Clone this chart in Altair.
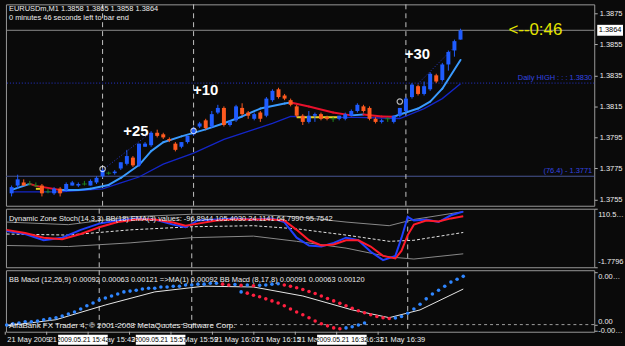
import altair as alt
import pandas as pd

# ---------------- data: EURUSDm M1 candles ----------------
opens = [1.3759, 1.3764, 1.3766, 1.3765, 1.3764, 1.3764, 1.3760, 1.3759, 1.3762, 1.3761,
         1.3764, 1.3764, 1.3765, 1.3764, 1.3766, 1.3770, 1.3772, 1.3772, 1.3775, 1.3778,
         1.3782, 1.3777, 1.3789, 1.3790, 1.3798, 1.3797, 1.3794, 1.3791, 1.3789, 1.3792,
         1.3797, 1.3802, 1.3806, 1.3802, 1.3811, 1.3814, 1.3803, 1.3806, 1.3814, 1.3811,
         1.3807, 1.3811, 1.3809, 1.3819, 1.3826, 1.3822, 1.3819, 1.3815, 1.3809, 1.3805,
         1.3809, 1.3810, 1.3808, 1.3807, 1.3807, 1.3807, 1.3809, 1.3812, 1.3815, 1.3814,
         1.3807, 1.3805, 1.3807, 1.3805, 1.3809, 1.3812, 1.3821, 1.3828, 1.3823, 1.3826,
         1.3835, 1.3832, 1.3842, 1.3851, 1.3858]
highs = [1.3764, 1.3771, 1.3768, 1.3767, 1.3766, 1.3765, 1.3762, 1.3763, 1.3763, 1.3766,
         1.3767, 1.3766, 1.3767, 1.3768, 1.3770, 1.3775, 1.3773, 1.3774, 1.3779, 1.3787,
         1.3783, 1.3791, 1.3792, 1.3799, 1.3800, 1.3798, 1.3795, 1.3792, 1.3792, 1.3796,
         1.3802, 1.3805, 1.3807, 1.3812, 1.3816, 1.3815, 1.3806, 1.3816, 1.3817, 1.3812,
         1.3811, 1.3812, 1.3821, 1.3826, 1.3827, 1.3823, 1.3820, 1.3816, 1.3810, 1.3812,
         1.3811, 1.3811, 1.3809, 1.3808, 1.3809, 1.3811, 1.3813, 1.3817, 1.3816, 1.3815,
         1.3808, 1.3807, 1.3808, 1.3809, 1.3814, 1.3821, 1.3830, 1.3829, 1.3831, 1.3837,
         1.3836, 1.3843, 1.3851, 1.3858, 1.3865]
lows = [1.3757, 1.3762, 1.3764, 1.3764, 1.3763, 1.3757, 1.3759, 1.3758, 1.3757, 1.3760,
        1.3764, 1.3763, 1.3764, 1.3764, 1.3765, 1.3769, 1.3771, 1.3771, 1.3774, 1.3777,
        1.3776, 1.3776, 1.3789, 1.3789, 1.3795, 1.3794, 1.3792, 1.3786, 1.3788, 1.3791,
        1.3796, 1.3801, 1.3800, 1.3801, 1.3810, 1.3802, 1.3802, 1.3805, 1.3809, 1.3807,
        1.3806, 1.3805, 1.3808, 1.3818, 1.3820, 1.3819, 1.3815, 1.3808, 1.3803, 1.3804,
        1.3805, 1.3806, 1.3806, 1.3805, 1.3806, 1.3806, 1.3809, 1.3811, 1.3811, 1.3806,
        1.3804, 1.3804, 1.3805, 1.3804, 1.3808, 1.3811, 1.3820, 1.3822, 1.3822, 1.3825,
        1.3830, 1.3831, 1.3838, 1.3847, 1.3858]
closes = [1.3763, 1.3768, 1.3764, 1.3765, 1.3764, 1.3759, 1.3760, 1.3762, 1.3759, 1.3765,
          1.3766, 1.3765, 1.3765, 1.3767, 1.3769, 1.3774, 1.3772, 1.3773, 1.3779, 1.3783,
          1.3777, 1.3791, 1.3791, 1.3798, 1.3796, 1.3795, 1.3793, 1.3787, 1.3792, 1.3796,
          1.3801, 1.3804, 1.3801, 1.3810, 1.3814, 1.3803, 1.3805, 1.3815, 1.3810, 1.3809,
          1.3810, 1.3807, 1.3820, 1.3825, 1.3821, 1.3820, 1.3816, 1.3809, 1.3805, 1.3809,
          1.3810, 1.3807, 1.3807, 1.3807, 1.3809, 1.3810, 1.3812, 1.3816, 1.3812, 1.3807,
          1.3805, 1.3806, 1.3807, 1.3809, 1.3814, 1.3820, 1.3829, 1.3823, 1.3828, 1.3836,
          1.3831, 1.3842, 1.3850, 1.3857, 1.3864]

# fast MA (coloured by slope), slow MA, channel lines
ma_fast_idx = [0, 3, 4, 8, 11, 13, 16, 18, 21, 23, 25, 28, 32, 35, 38, 41, 45, 46, 49, 53,
               56, 58, 61, 63, 64, 67, 69, 71, 74]
ma_fast_val = [1.37612, 1.37651, 1.37638, 1.37612, 1.37612, 1.37619, 1.37644, 1.37689, 1.37772,
               1.37862, 1.37919, 1.37957, 1.38002, 1.38041, 1.38085, 1.38136, 1.38168, 1.38175,
               1.38149, 1.38111, 1.38092, 1.38098, 1.38085, 1.38083, 1.38098, 1.38136, 1.38181,
               1.38264, 1.38449]
ma_slow_idx = [0, 8, 15, 18, 21, 25, 30, 35, 40, 43, 46, 51, 57, 64, 68, 71, 74]
ma_slow_val = [1.37600, 1.37600, 1.37619, 1.37657, 1.37695, 1.37778, 1.37849, 1.37938, 1.38002,
               1.38041, 1.38085, 1.38079, 1.38079, 1.38072, 1.38136, 1.38200, 1.38296]
chan_i1 = [15, 67]
chan_i2 = [23, 73]
chan_p1 = [1.37740, 1.38296]
chan_p2 = [1.37983, 1.38532]
yel_i1 = [4, 47]
yel_i2 = [5, 54]
yel_p = [1.37619, 1.38080]

bid_price = 1.3864
daily_high = 1.3830
fib_level = 1.3770
price_ticks = [1.3755, 1.3775, 1.3795, 1.3815, 1.3835, 1.3855, 1.3875]
vline_idx = [15, 30, 65]
circle_idx = [15, 30, 64]
circle_p = [1.37747, 1.37992, 1.38181]
ann_idx = [20.5, 32.0, 66.9]
ann_p = [1.37989, 1.38258, 1.38488]
ann_txt = ["+25", "+10", "+30"]

# Dynamic Zone Stoch panel
stoch_idx = [0, 3, 6, 9, 12, 15, 18, 21, 24, 27, 29, 31, 34, 37, 40, 43, 45, 47, 49, 51,
             53, 55, 57, 59, 61, 63, 64, 65, 66, 68, 70, 72, 74]
stoch_main = [68, 62, 50, 55, 70, 82, 88, 92, 90, 80, 75, 88, 90, 92, 90, 92, 85, 55, 40, 38,
              45, 55, 50, 28, 12, 20, 55, 95, 88, 90, 85, 98, 105]
stoch_signal = [70, 64, 55, 52, 62, 75, 85, 90, 90, 84, 78, 82, 88, 90, 90, 90, 88, 70, 50, 40,
                42, 50, 50, 38, 20, 15, 30, 60, 80, 88, 86, 92, 96]
zone_idx = [0, 10, 20, 30, 40, 47, 55, 62, 66, 74]
zone_mid = [62, 60, 70, 76, 78, 72, 60, 48, 50, 65]
zone_up = [85, 80, 95, 100, 100, 95, 85, 78, 90, 105]
zone_lo = [40, 38, 45, 55, 58, 48, 35, 18, 14, 24]

# BB MACD panel
macd = [-0.00001, 0.00002, 0.00004, 0.00007, 0.00007, 0.00009,
        0.00012, 0.00014, 0.00017, 0.00021, 0.00026,
        0.00031, 0.00038, 0.00046, 0.00053, 0.00060,
        0.00065, 0.00070, 0.00075, 0.00080, 0.00082,
        0.00084, 0.00087, 0.00089, 0.00089, 0.00092,
        0.00092, 0.00094, 0.00094, 0.00097, 0.00097,
        0.00099, 0.00099, 0.00101, 0.00101, 0.00099,
        0.00097, 0.00098, 0.00096, 0.00097, 0.00095,
        0.00096, 0.00097, 0.00099, 0.00100, 0.00097,
        0.00094, 0.00090, 0.00086, 0.00081, 0.00076,
        0.00070, 0.00064, 0.00058, 0.00052, 0.00046,
        0.00040, 0.00034, 0.00029, 0.00024, 0.00020,
        0.00017, 0.00015, 0.00016, 0.00020, 0.00028,
        0.00038, 0.00050, 0.00063, 0.00075, 0.00084,
        0.00094, 0.00104, 0.00111, 0.00118]
macd2_start = 38
macd2 = [0.00080, 0.00077, 0.00072, 0.00068, 0.00063, 0.00058, 0.00053, 0.00046, 0.00038,
         0.00031, 0.00024, 0.00017, 0.00009, 0.00002, -0.00003, -0.00008, -0.00010, -0.00008,
         -0.00005, -0.00001, 0.00004]
sig_idx = [0, 8, 16, 24, 32, 40, 48, 56, 62, 67, 74]
sig_val = [-0.00003, 0.00012, 0.00048, 0.00080, 0.00094, 0.00092, 0.00070, 0.00036, 0.00017,
           0.00036, 0.00087]

# time axis
tick_times = ["15:27", "15:35", "15:43", "15:51", "15:59", "16:07", "16:15", "16:23", "16:31", "16:39"]
tick_labels = ["21 May 2009", "21 May 15:35", "21 May 15:43", "21 May 15:51", "21 May 15:59",
               "21 May 16:07", "21 May 16:15", "21 May 16:23", "21 May 16:31", "21 May 16:39"]
box_times = ["15:42", "15:57", "16:32"]
box_labels = ["2009.05.21 15:42", "2009.05.21 15:57", "2009.05.21 16:32"]

# ---------------- styling ----------------
FONT = "Liberation Sans"
BG = "#0a0a0a"
W = 593
H1, H2, H3, H4 = 203, 59, 62, 11
UP, DOWN, DOJI = "#1f5cff", "#ff5a1f", "#1e8a1e"
TXT = "#ececec"

XS = alt.Scale(domain=[-0.113, 95.23], nice=False, zero=False)


def X(f):
    return alt.X(f, type="quantitative", scale=XS, axis=None)


def make_y(scale, axis):
    def Y(f):
        return alt.Y(f, type="quantitative", scale=scale, axis=axis)
    return Y


AXBASE = dict(orient="right", domain=False, grid=False, title=None, tickColor="#b0b0b0",
              tickSize=3, labelPadding=2)
Y1 = make_y(alt.Scale(domain=[1.37510, 1.38807], nice=False, zero=False),
            alt.Axis(values=price_ticks, format=".4f", labelColor=TXT, labelFont=FONT,
                     labelFontSize=7.5, **AXBASE))
Y2 = make_y(alt.Scale(domain=[-1.7796, 110.591], nice=False, zero=False),
            alt.Axis(values=[-1.7796, 110.591], labels=False, **AXBASE))
Y3 = make_y(alt.Scale(domain=[-0.000174, 0.00133], nice=False, zero=False),
            alt.Axis(values=[0.00128, 0.0, -0.00015], labels=False, **AXBASE))


def txt(s, x, y, size=7.5, color=TXT, align="left", **kw):
    return alt.Chart(pd.DataFrame({"t": [s]})).mark_text(
        align=align, baseline="middle", font=FONT, fontSize=size, color=color, **kw
    ).encode(x=alt.value(x), y=alt.value(y), text="t:N")


def vlines():
    return alt.Chart(pd.DataFrame({"i": vline_idx})).mark_rule(
        color="#c4c4c4", strokeDash=[5, 4], strokeWidth=1).encode(x=X("i"))


def right_label(Y, v, s, baseline, dy=0):
    return alt.Chart(pd.DataFrame({"v": [v], "t": [s]})).mark_text(
        align="left", baseline=baseline, dy=dy, font=FONT, fontSize=7.5, color=TXT, limit=26
    ).encode(x=alt.value(W + 4), y=Y("v"), text="t:N")


# ---------------- panel 1: price ----------------
n = len(closes)
dirs = ["up" if c > o else ("down" if c < o else "doji") for o, c in zip(opens, closes)]
cdf = pd.DataFrame({"i": list(range(n)), "o": opens, "h": highs, "l": lows, "c": closes,
                    "col": [{"up": UP, "down": DOWN, "doji": DOJI}[d] for d in dirs],
                    "dir": dirs})

segs = []
for k in range(len(ma_fast_idx) - 1):
    a, b = ma_fast_val[k], ma_fast_val[k + 1]
    segs.append({"x1": ma_fast_idx[k], "x2": ma_fast_idx[k + 1], "p1": a, "p2": b,
                 "col": "#e8102c" if b < a else "#3a9bff"})
fdf = pd.DataFrame(segs)


def hl(p, **kw):
    return alt.Chart(pd.DataFrame({"p": [p]})).mark_rule(**kw).encode(y=Y1("p"))


p1_layers = [
    hl(fib_level, color="#4a5796", strokeWidth=1),
    hl(daily_high, color="#2636d6", strokeWidth=1, strokeDash=[1, 2]),
    hl(bid_price, color="#8c8c8c", strokeWidth=1),
    vlines(),
    alt.Chart(pd.DataFrame({"i": ma_slow_idx, "p": ma_slow_val})).mark_line(
        color="#1426c8", strokeWidth=1.3).encode(x=X("i"), y=Y1("p")),
    alt.Chart(pd.DataFrame({"x1": chan_i1, "x2": chan_i2, "p1": chan_p1, "p2": chan_p2})).mark_rule(
        color="#2a3ad0", strokeDash=[1, 2], strokeWidth=1).encode(
        x=X("x1"), x2="x2", y=Y1("p1"), y2="p2"),
    alt.Chart(pd.DataFrame({"x1": yel_i1, "x2": yel_i2, "p": yel_p})).mark_rule(
        color="#e6d21e", strokeWidth=2).encode(x=X("x1"), x2="x2", y=Y1("p")),
    alt.Chart(fdf).mark_rule(strokeWidth=2, strokeCap="round").encode(
        x=X("x1"), x2="x2", y=Y1("p1"), y2="p2", color=alt.Color("col:N", scale=None)),
    alt.Chart(cdf).mark_rule(strokeWidth=1).encode(
        x=X("i"), y=Y1("l"), y2="h", color=alt.Color("col:N", scale=None)),
    alt.Chart(cdf).transform_filter("datum.dir != 'doji'").mark_bar(size=4).encode(
        x=X("i"), y=Y1("o"), y2="c", color=alt.Color("col:N", scale=None)),
    alt.Chart(cdf).transform_filter("datum.dir == 'doji'").mark_tick(
        orient="horizontal", size=5, thickness=1.2).encode(
        x=X("i"), y=Y1("c"), color=alt.Color("col:N", scale=None)),
    alt.Chart(pd.DataFrame({"i": circle_idx, "p": circle_p})).mark_point(
        shape="circle", size=30, filled=False, color="white", strokeWidth=1.2).encode(
        x=X("i"), y=Y1("p")),
    alt.Chart(pd.DataFrame({"i": ann_idx, "p": ann_p, "t": ann_txt})).mark_text(
        font=FONT, fontSize=15, fontWeight="bold", color="white").encode(
        x=X("i"), y=Y1("p"), text="t:N"),
    alt.Chart(pd.DataFrame({"i": [81.9], "p": [bid_price], "t": ["<--0:46"]})).mark_text(
        align="left", baseline="middle", font=FONT, fontSize=17, color="#e4e400").encode(
        x=X("i"), y=Y1("p"), text="t:N"),
    alt.Chart(pd.DataFrame({"p": [daily_high], "t": ["Daily HIGH  : : :  1.3830"]})).mark_text(
        align="right", baseline="bottom", dy=-1, font=FONT, fontSize=7.5, color="#3446e0").encode(
        x=alt.value(W - 2), y=Y1("p"), text="t:N"),
    alt.Chart(pd.DataFrame({"p": [fib_level], "t": ["(76.4) - 1.3771"]})).mark_text(
        align="right", baseline="bottom", dy=-1, font=FONT, fontSize=7.5, color="#3446e0").encode(
        x=alt.value(W - 2), y=Y1("p"), text="t:N"),
    alt.Chart(pd.DataFrame({"p": [bid_price]})).mark_rect(width=26, height=11, color="white").encode(
        x=alt.value(W + 16), y=Y1("p")),
    alt.Chart(pd.DataFrame({"p": [bid_price], "t": ["1.3864"]})).mark_text(
        font=FONT, fontSize=7.5, color="black").encode(x=alt.value(W + 16), y=Y1("p"), text="t:N"),
    txt("EURUSDm,M1  1.3858 1.3865 1.3858 1.3864", 3, 5),
    txt("0 minutes 46 seconds left to bar end", 3, 14),
]
p1 = alt.layer(*p1_layers).properties(width=W, height=H1)

# ---------------- panel 2: Dynamic Zone Stoch ----------------
sdf = pd.DataFrame({"i": stoch_idx, "blue": stoch_main, "red": stoch_signal})
zdf = pd.DataFrame({"i": zone_idx, "mid": zone_mid, "up": zone_up, "lo": zone_lo})
p2_layers = [
    vlines(),
    alt.Chart(zdf).mark_line(color="#8a8a8a", strokeWidth=1).encode(x=X("i"), y=Y2("up")),
    alt.Chart(zdf).mark_line(color="#8a8a8a", strokeWidth=1).encode(x=X("i"), y=Y2("lo")),
    alt.Chart(zdf).mark_line(color="#e6e6e6", strokeWidth=1, strokeDash=[3, 2]).encode(
        x=X("i"), y=Y2("mid")),
    alt.Chart(sdf).mark_line(color="#2040ff", strokeWidth=2).encode(x=X("i"), y=Y2("blue")),
    alt.Chart(sdf).mark_line(color="#ff1a2a", strokeWidth=2).encode(x=X("i"), y=Y2("red")),
    txt("Dynamic Zone Stoch(14,3,3) BB(18) EMA(3) values: -96.8944 105.4030 24.1141 64.7990 95.7542",
        3, 10),
    right_label(Y2, 110.591, "110.5910", "top", 2),
    right_label(Y2, -1.7796, "-1.7796", "bottom", -1),
]
p2 = alt.layer(*p2_layers).properties(width=W, height=H2)

# ---------------- panel 3: BB MACD ----------------
mcol = []
for k, v in enumerate(macd):
    mcol.append("#ff2040" if k > 0 and v < macd[k - 1] else "#2f86ff")
mdf = pd.DataFrame({"i": list(range(len(macd))), "v": macd, "col": mcol})
m2col = []
for k, v in enumerate(macd2):
    m2col.append("#ff2040" if k > 0 and v < macd2[k - 1] else "#2f86ff")
m2df = pd.DataFrame({"i": [macd2_start + k for k in range(len(macd2))], "v": macd2, "col": m2col})

p3_layers = [
    alt.Chart(pd.DataFrame({"v": [0.0]})).mark_rule(color="#a0a0a0", strokeDash=[3, 3]).encode(
        y=Y3("v")),
    vlines(),
    alt.Chart(pd.DataFrame({"i": sig_idx, "v": sig_val})).mark_line(
        color="#e8e8e8", strokeWidth=1).encode(x=X("i"), y=Y3("v")),
    alt.Chart(m2df).mark_circle(size=13, opacity=1).encode(
        x=X("i"), y=Y3("v"), color=alt.Color("col:N", scale=None)),
    alt.Chart(mdf).mark_circle(size=13, opacity=1).encode(
        x=X("i"), y=Y3("v"), color=alt.Color("col:N", scale=None)),
    txt("BB Macd (12,26,9) 0.00092 0.00063 0.00121  =>MA(1) 0.00092  BB Macd (8,17,8) 0.00091 0.00063 0.00120",
        3, 10),
    txt("AlfaBank FX Trader 4, \u00a9 2001-2008 MetaQuotes Software Corp.", 3, 56, size=8),
    right_label(Y3, 0.00128, "0.00128", "top", 1),
    right_label(Y3, 0.0, "0.00", "bottom", 1),
    right_label(Y3, -0.00015, "-0.00015", "middle", 0),
]
p3 = alt.layer(*p3_layers).properties(width=W, height=H3)

# ---------------- time axis strip ----------------
TS = alt.Scale(type="utc", domain=[
    alt.DateTime(year=2009, month=5, date=21, hours=15, minutes=27, seconds=8, utc=True),
    alt.DateTime(year=2009, month=5, date=21, hours=17, minutes=20, seconds=44, utc=True)])


def XT(f):
    return alt.X(f, type="temporal", scale=TS, axis=None)


tdf = pd.DataFrame({"t": ["2009-05-21T%s:00Z" % s for s in tick_times], "lbl": tick_labels})
bdf = pd.DataFrame({"t": ["2009-05-21T%s:00Z" % s for s in box_times], "lbl": box_labels})
p4 = alt.layer(
    alt.Chart(tdf).mark_rule(color="#b0b0b0").encode(x=XT("t"), y=alt.value(-3), y2=alt.value(0)),
    alt.Chart(tdf).mark_text(align="left", baseline="middle", dx=2, font=FONT, fontSize=7.5,
                             color=TXT).encode(x=XT("t"), y=alt.value(5), text="lbl:N"),
    alt.Chart(bdf).mark_rect(width=50, height=10, color="white").encode(x=XT("t"), y=alt.value(5)),
    alt.Chart(bdf).mark_text(baseline="middle", font=FONT, fontSize=6.8, color="black").encode(
        x=XT("t"), y=alt.value(5), text="lbl:N"),
).properties(width=W, height=H4, view=alt.ViewBackground(stroke="transparent"))

chart = alt.vconcat(p1, p2, p3, p4, spacing=3, bounds="flush").resolve_scale(
    x="independent", y="independent").properties(
    padding={"left": 2, "top": 2, "right": 0, "bottom": 0}, background=BG
).configure_view(stroke="#9a9a9a", strokeWidth=1)

chart.save("out.html", embed_options={"renderer": "svg", "actions": False})
